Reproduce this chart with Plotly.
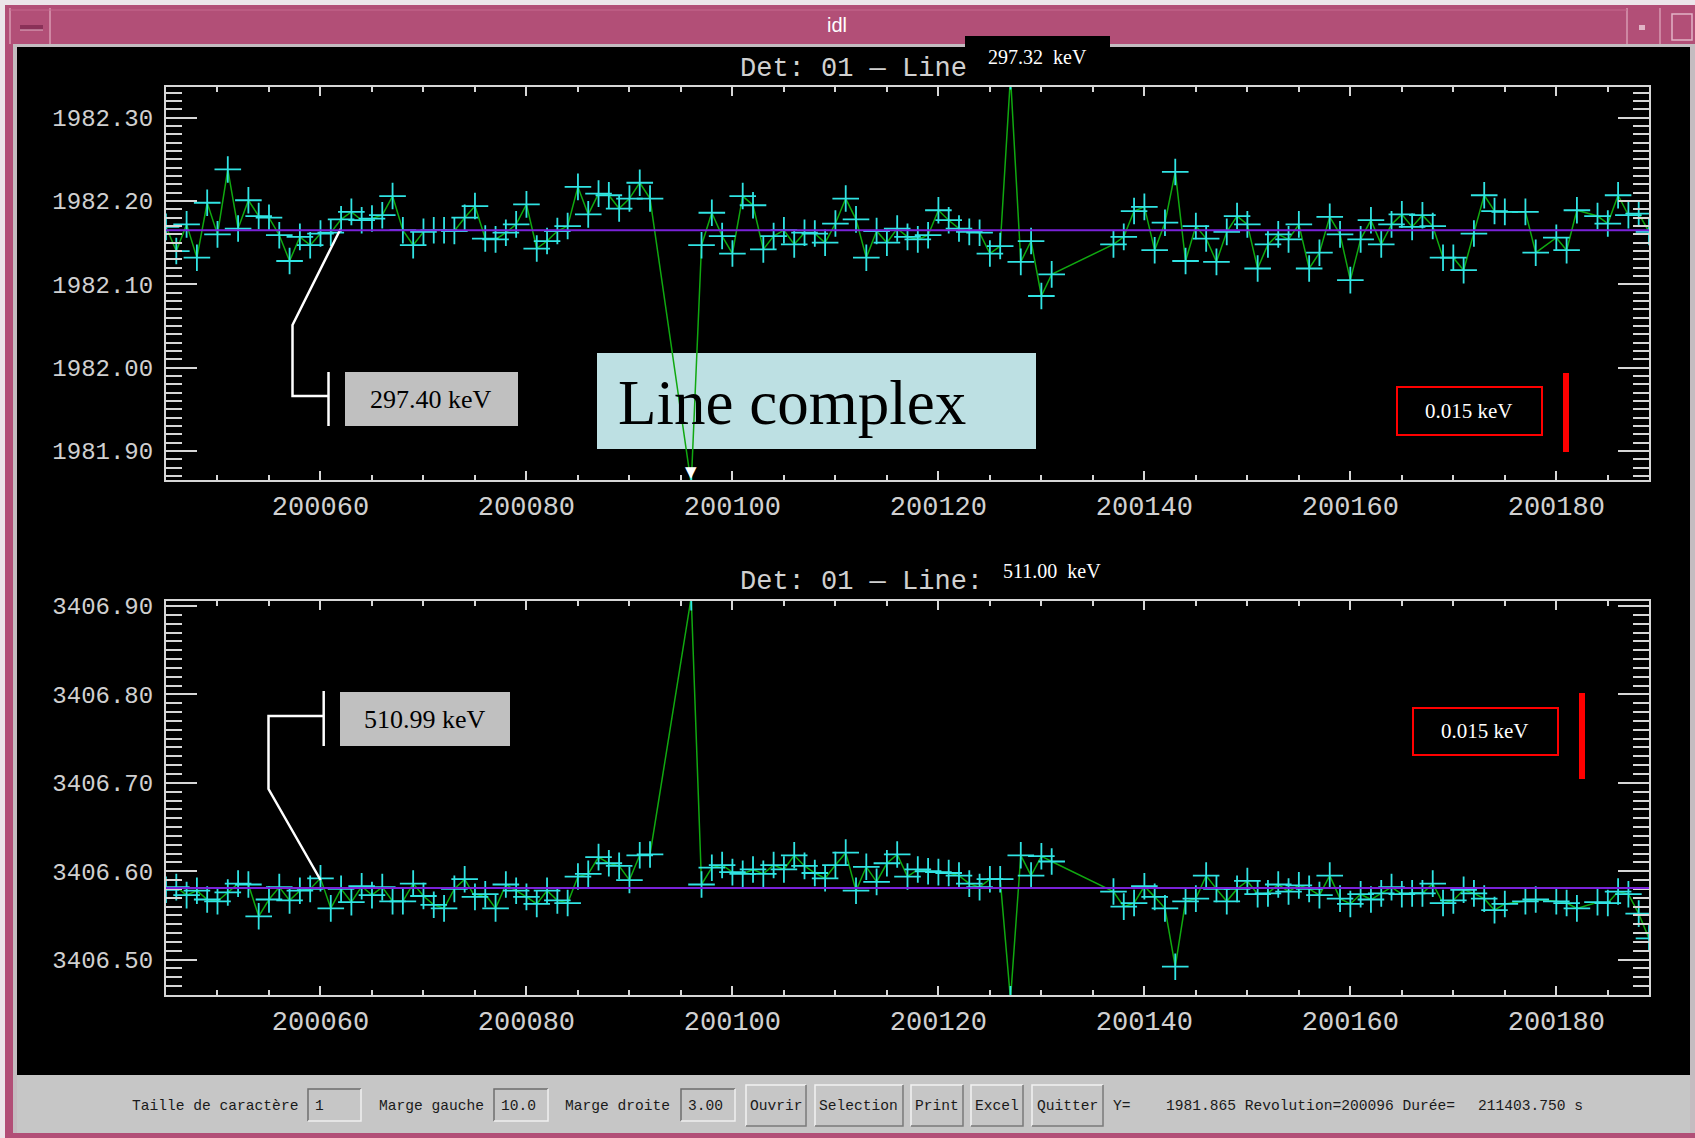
import plotly.graph_objects as go

W, H = 1695, 1138

# ---- data (revolution number, fitted line position in channels) ----
revs = (list(range(200045, 200093)) + list(range(200096, 200132)) +
        list(range(200137, 200176)) + [200177, 200178, 200180, 200181, 200182] +
        list(range(200184, 200190)))

line_297 = [
    1982.169, 1982.140, 1982.172, 1982.132, 1982.198, 1982.160, 1982.238, 1982.167,
    1982.201, 1982.182, 1982.180, 1982.159, 1982.128, 1982.157, 1982.147, 1982.161,
    1982.162, 1982.178, 1982.187, 1982.177, 1982.179, 1982.183, 1982.206, 1982.165,
    1982.147, 1982.163, 1982.165, 1982.165, 1982.164, 1982.180, 1982.194, 1982.155,
    1982.154, 1982.162, 1982.172, 1982.196, 1982.143, 1982.152, 1982.164, 1982.170,
    1982.217, 1982.184, 1982.209, 1982.207, 1982.191, 1982.203, 1982.222, 1982.203,
    1981.860, 1982.147, 1982.186, 1982.158, 1982.137, 1982.206, 1982.195, 1982.142,
    1982.158, 1982.165, 1982.148, 1982.162, 1982.161, 1982.150, 1982.173, 1982.203,
    1982.178, 1982.132, 1982.164, 1982.150, 1982.167, 1982.157, 1982.154, 1982.159,
    1982.189, 1982.177, 1982.167, 1982.163, 1982.162, 1982.137, 1982.146, 1982.350,
    1982.127, 1982.152, 1982.086, 1982.112,
    1982.148, 1982.157, 1982.188, 1982.193, 1982.141, 1982.174, 1982.235, 1982.128,
    1982.170, 1982.155, 1982.127, 1982.163, 1982.182, 1982.172, 1982.119, 1982.148,
    1982.160, 1982.154, 1982.172, 1982.119, 1982.138, 1982.181, 1982.160, 1982.105,
    1982.154, 1982.177, 1982.148, 1982.172, 1982.184, 1982.169, 1982.183, 1982.170,
    1982.132, 1982.132, 1982.117, 1982.161, 1982.207, 1982.188, 1982.187,
    1982.187, 1982.138, 1982.156, 1982.141, 1982.189,
    1982.182, 1982.173, 1982.207, 1982.183, 1982.185, 1982.163,
]

line_511 = [
    3406.579, 3406.582, 3406.573, 3406.578, 3406.568, 3406.566, 3406.576, 3406.586,
    3406.585, 3406.549, 3406.568, 3406.582, 3406.567, 3406.578, 3406.580, 3406.592,
    3406.558, 3406.580, 3406.565, 3406.583, 3406.573, 3406.582, 3406.566, 3406.566,
    3406.586, 3406.572, 3406.562, 3406.558, 3406.580, 3406.591, 3406.571, 3406.574,
    3406.558, 3406.585, 3406.578, 3406.571, 3406.563, 3406.578, 3406.567, 3406.564,
    3406.594, 3406.597, 3406.616, 3406.609, 3406.606, 3406.590, 3406.618, 3406.619,
    3406.910, 3406.585, 3406.604, 3406.607, 3406.599, 3406.597, 3406.602, 3406.597,
    3406.607, 3406.602, 3406.618, 3406.606, 3406.598, 3406.592, 3406.607, 3406.621,
    3406.578, 3406.605, 3406.588, 3406.609, 3406.619, 3406.594, 3406.602, 3406.600,
    3406.599, 3406.598, 3406.595, 3406.586, 3406.582, 3406.591, 3406.591, 3406.455,
    3406.618, 3406.595, 3406.617, 3406.611,
    3406.577, 3406.560, 3406.564, 3406.583, 3406.571, 3406.558, 3406.492, 3406.566,
    3406.569, 3406.595, 3406.580, 3406.566, 3406.580, 3406.589, 3406.574, 3406.575,
    3406.585, 3406.577, 3406.584, 3406.580, 3406.573, 3406.595, 3406.569, 3406.563,
    3406.574, 3406.568, 3406.575, 3406.582, 3406.574, 3406.575, 3406.575, 3406.586,
    3406.564, 3406.567, 3406.579, 3406.575, 3406.569, 3406.556, 3406.563,
    3406.566, 3406.568, 3406.566, 3406.564, 3406.558,
    3406.565, 3406.564, 3406.577, 3406.574, 3406.552, 3406.524,
]

mean_297 = 1982.165
mean_511 = 3406.581

x_range = [200045, 200189]
y_range_297 = [1981.865, 1982.337]
y_range_511 = [3406.460, 3406.906]

# toolbar state
cursor_rev = 200096
cursor_y = 1981.865
duree = 211403.750
taille = "1"
marge_gauche = "10.0"
marge_droite = "3.00"
buttons = ["Ouvrir", "Selection", "Print", "Excel", "Quitter"]

PINK = "#b24f77"
GREY = "#c6c6c6"
AXC = "#d6d6d6"
MONO = "Liberation Mono"
SERIF = "Liberation Serif"


def px(x):
    return x / W


def py(y):
    return 1 - y / H


shapes = []
annots = []


def rect(x0, y0, x1, y1, fill=None, line=None, lw=1):
    shapes.append(dict(type="rect", xref="paper", yref="paper",
                       x0=px(x0), x1=px(x1), y0=py(y1), y1=py(y0),
                       fillcolor=fill if fill else "rgba(0,0,0,0)",
                       line=dict(color=line if line else "rgba(0,0,0,0)", width=lw if line else 0),
                       layer="below" if fill and not line else "above"))


def path(pts, color="white", lw=2.5):
    d = "M " + " L ".join(f"{px(x):.5f},{py(y):.5f}" for x, y in pts)
    shapes.append(dict(type="path", xref="paper", yref="paper", path=d,
                       line=dict(color=color, width=lw)))


def text(x, y, s, size, color, family, anchor="left"):
    annots.append(dict(xref="paper", yref="paper", x=px(x), y=py(y), text=s,
                       showarrow=False, xanchor=anchor, yanchor="middle",
                       font=dict(size=size, color=color, family=family)))


# ---- window chrome ----
rect(0, 0, W, H, "#ece6ea")
rect(5, 5, W, 47, PINK)
rect(5, 5, 13, 1138, PINK)
rect(13, 44, W, 47, "#c4bcc0")
rect(13, 44, 17, 1133, "#c4bcc0")
rect(17, 47, 1690, 1075, "black")
rect(1690, 44, W, 1133, "#c4bcc0")
rect(17, 1075, 1690, 1133, GREY)
rect(5, 1133, W, 1138, PINK)
# title bar buttons
path([(10, 8), (10, 44)], "#d89ab2", 1.5)
path([(50, 8), (50, 44)], "#d89ab2", 1.5)
rect(20, 25, 43, 30, "#8a3158")
path([(20, 30), (43, 30)], "#e2b4c6", 1)
path([(1627, 8), (1627, 44)], "#d89ab2", 1.5)
path([(1660, 8), (1660, 44)], "#d89ab2", 1.5)
rect(1639, 25, 1645, 30, "#e2b4c6")
rect(1672, 14, 1692, 40, None, "#e2b4c6", 1.5)
path([(10, 10), (1627, 10)], "#c56a8f", 1)
text(837, 25, "idl", 20, "white", "Liberation Sans", "center")

# ---- plot decorations, top panel ----
rect(965, 36, 1110, 77, "black")
text(1037, 57, "297.32  keV", 20, "white", SERIF, "center")
text(738, 69, "Det: 01 — Line", 27, "#d0d0d0", MONO)
path([(340.5, 229), (292.5, 325), (292.5, 396), (328.5, 396)])
path([(328.5, 372), (328.5, 426)])
rect(345, 372, 518, 426, "#c0c0c0")
text(431, 399, "297.40 keV", 26, "black", SERIF, "center")
rect(597, 353, 1036, 449, "#bde0e3")
text(616, 403, "Line complex", 63, "black", SERIF)
rect(1397, 387, 1542, 435, None, "#ff0000", 2)
text(1469, 411, "0.015 keV", 21, "white", SERIF, "center")
rect(1563, 373, 1569, 452, "#ff0000")

# ---- plot decorations, bottom panel ----
text(738, 582, "Det: 01 — Line:", 27, "#d0d0d0", MONO)
text(1001, 571, "511.00  keV", 20, "white", SERIF)
path([(323.7, 691), (323.7, 746)])
path([(323.7, 716), (268.5, 716), (268.5, 789), (320.5, 880)])
rect(340, 692, 510, 746, "#c0c0c0")
text(425, 719, "510.99 keV", 26, "black", SERIF, "center")
rect(1413, 708, 1558, 755, None, "#ff0000", 2)
text(1485, 731, "0.015 keV", 21, "white", SERIF, "center")
rect(1579, 693, 1585, 779, "#ff0000")

# ---- toolbar ----
TB = 1106
TF = 14.6


def sunken(x0, x1, s):
    rect(x0, 1089, x1, 1121, GREY)
    path([(x0, 1121), (x0, 1089), (x1, 1089)], "#6e6e6e", 1.5)
    path([(x0, 1121), (x1, 1121), (x1, 1089)], "#f0f0f0", 1.5)
    text(x0 + 5, TB, s, TF, "#1a1a1a", MONO)


def raised(x0, x1, s):
    rect(x0, 1085, x1, 1126, GREY)
    path([(x0, 1126), (x0, 1085), (x1, 1085)], "#f2f2f2", 1.5)
    path([(x0, 1126), (x1, 1126), (x1, 1085)], "#7a7a7a", 1.5)
    text((x0 + x1) / 2, TB, s, TF, "#1a1a1a", MONO, "center")


text(130, TB, "Taille de caractère", TF, "#1a1a1a", MONO)
sunken(308, 361, taille)
text(377, TB, "Marge gauche", TF, "#1a1a1a", MONO)
sunken(494, 548, marge_gauche)
text(563, TB, "Marge droite", TF, "#1a1a1a", MONO)
sunken(681, 735, marge_droite)
for (x0, x1), b in zip([(746, 806), (815, 903), (911, 963), (971, 1023), (1032, 1103)], buttons):
    raised(x0, x1, b)
text(1111, TB, "Y=", TF, "#1a1a1a", MONO)
text(1164, TB, f"{cursor_y:.3f} Revolution={cursor_rev} Durée=", TF, "#1a1a1a", MONO)
text(1476, TB, f"{duree:.3f} s", TF, "#1a1a1a", MONO)

# ---- traces ----
fig = go.Figure()
for xa, ya, vals, mean in [("x", "y", line_297, mean_297), ("x2", "y2", line_511, mean_511)]:
    fig.add_trace(go.Scatter(
        x=revs, y=vals, xaxis=xa, yaxis=ya, mode="lines+markers",
        line=dict(color="#10a810", width=1.5),
        marker=dict(symbol="cross-thin", size=19, line=dict(color="#30e4e4", width=1.8)),
        showlegend=False))
    shapes.append(dict(type="line", xref=f"{xa} domain", yref=ya, x0=0, x1=1,
                       y0=mean, y1=mean, line=dict(color="#7a22d8", width=2)))

# cursor position marker (from toolbar state)
annots.append(dict(xref="x", yref="y", x=cursor_rev, y=cursor_y, text="▼",
                   showarrow=False, yanchor="bottom", yshift=-3,
                   font=dict(size=15, color="white", family="DejaVu Sans")))

xax = dict(range=x_range, tickmode="linear", tick0=200060, dtick=20, tickformat="d",
           ticks="inside", ticklen=9, tickwidth=2, tickcolor=AXC, mirror="allticks",
           showline=True, linecolor=AXC, linewidth=2, showgrid=False, zeroline=False,
           automargin=False,
           tickfont=dict(family=MONO, size=27, color="#d0d0d0"), ticklabelstandoff=1,
           minor=dict(dtick=5, ticklen=5, tickwidth=2, tickcolor=AXC, ticks="inside"))
yax = dict(tickmode="linear", dtick=0.1, tickformat=".2f",
           ticks="inside", ticklen=31, tickwidth=2, tickcolor=AXC, mirror="allticks",
           showline=True, linecolor=AXC, linewidth=2, showgrid=False, zeroline=False,
           automargin=False,
           tickfont=dict(family=MONO, size=24, color="#d0d0d0"), ticklabelstandoff=6,
           minor=dict(dtick=0.01, ticklen=16, tickwidth=2, tickcolor=AXC, ticks="inside"))

dom_x = [px(166), px(1649)]
fig.update_layout(
    width=W, height=H, margin=dict(l=0, r=0, t=0, b=0, pad=0, autoexpand=False),
    paper_bgcolor=GREY, plot_bgcolor="black",
    xaxis=dict(xax, domain=dom_x, anchor="y"),
    yaxis=dict(yax, domain=[py(480), py(87)], range=y_range_297, tick0=1982.0, anchor="x"),
    xaxis2=dict(xax, domain=dom_x, anchor="y2"),
    yaxis2=dict(yax, domain=[py(995), py(600.7)], range=y_range_511, tick0=3406.0, anchor="x2"),
    shapes=shapes, annotations=annots,
)

fig.write_html("out.html", config={"displayModeBar": False},
               post_script="document.body.style.margin='0px';")
